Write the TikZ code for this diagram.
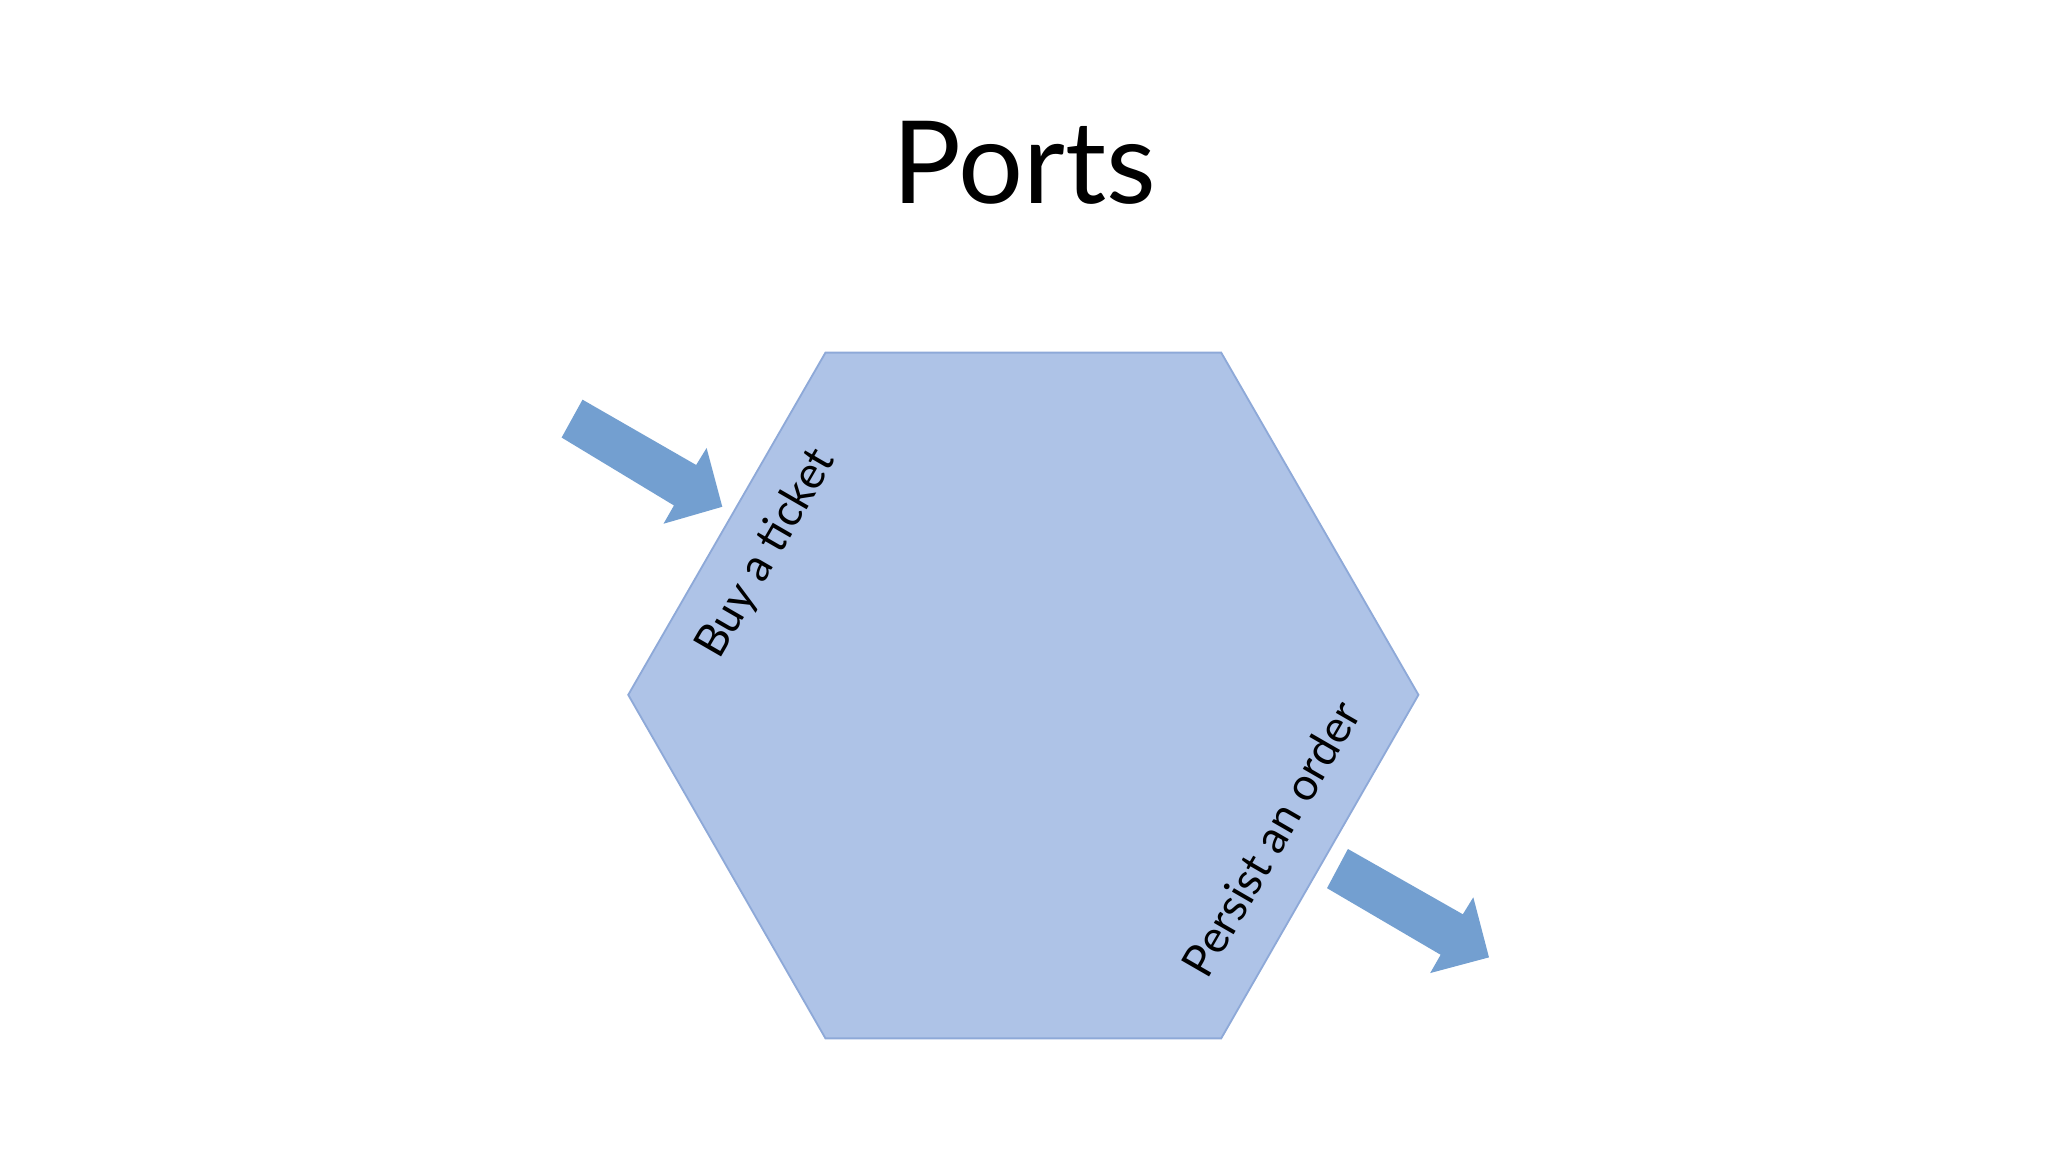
\documentclass[tikz,border=0pt]{standalone}
\usepackage{fontspec}
\setmainfont{Lato}
\definecolor{hexfill}{HTML}{AEC3E7}
\definecolor{hexline}{HTML}{8EA9D8}
\definecolor{arrowfill}{HTML}{739FD0}
\begin{document}
\begin{tikzpicture}[x=0.01cm,y=-0.01cm,
  lbl/.style={font=\fontsize{9.8pt}{11pt}\selectfont, rotate=60, inner sep=0pt},
  blockarrow/.style={fill=arrowfill, draw=none}]
\useasboundingbox (0,0) rectangle (1568,882);
\fill[white] (0,0) rectangle (1568,882);
\node[font=\fontsize{25pt}{30pt}\selectfont, inner sep=0pt] (title) at (784,125) {Ports};
\draw[fill=hexfill, draw=hexline, line width=0.4pt]
  (632,270) -- (935,270) -- (1086,532) -- (935,795) -- (632,795) -- (481,532) -- cycle;
\fill[blockarrow] (446,306) -- (533,356) -- (541,343) -- (553,388) -- (508,401) -- (516,387) -- (430,335) -- cycle;
\fill[blockarrow] (1032,650) -- (1120,700) -- (1128,687) -- (1140,733) -- (1095,745) -- (1103,731) -- (1016,680) -- cycle;
\node[lbl] (buy) at (587,424) {Buy a ticket};
\node[lbl] (persist) at (973,642) {Persist an order};
\end{tikzpicture}
\end{document}
